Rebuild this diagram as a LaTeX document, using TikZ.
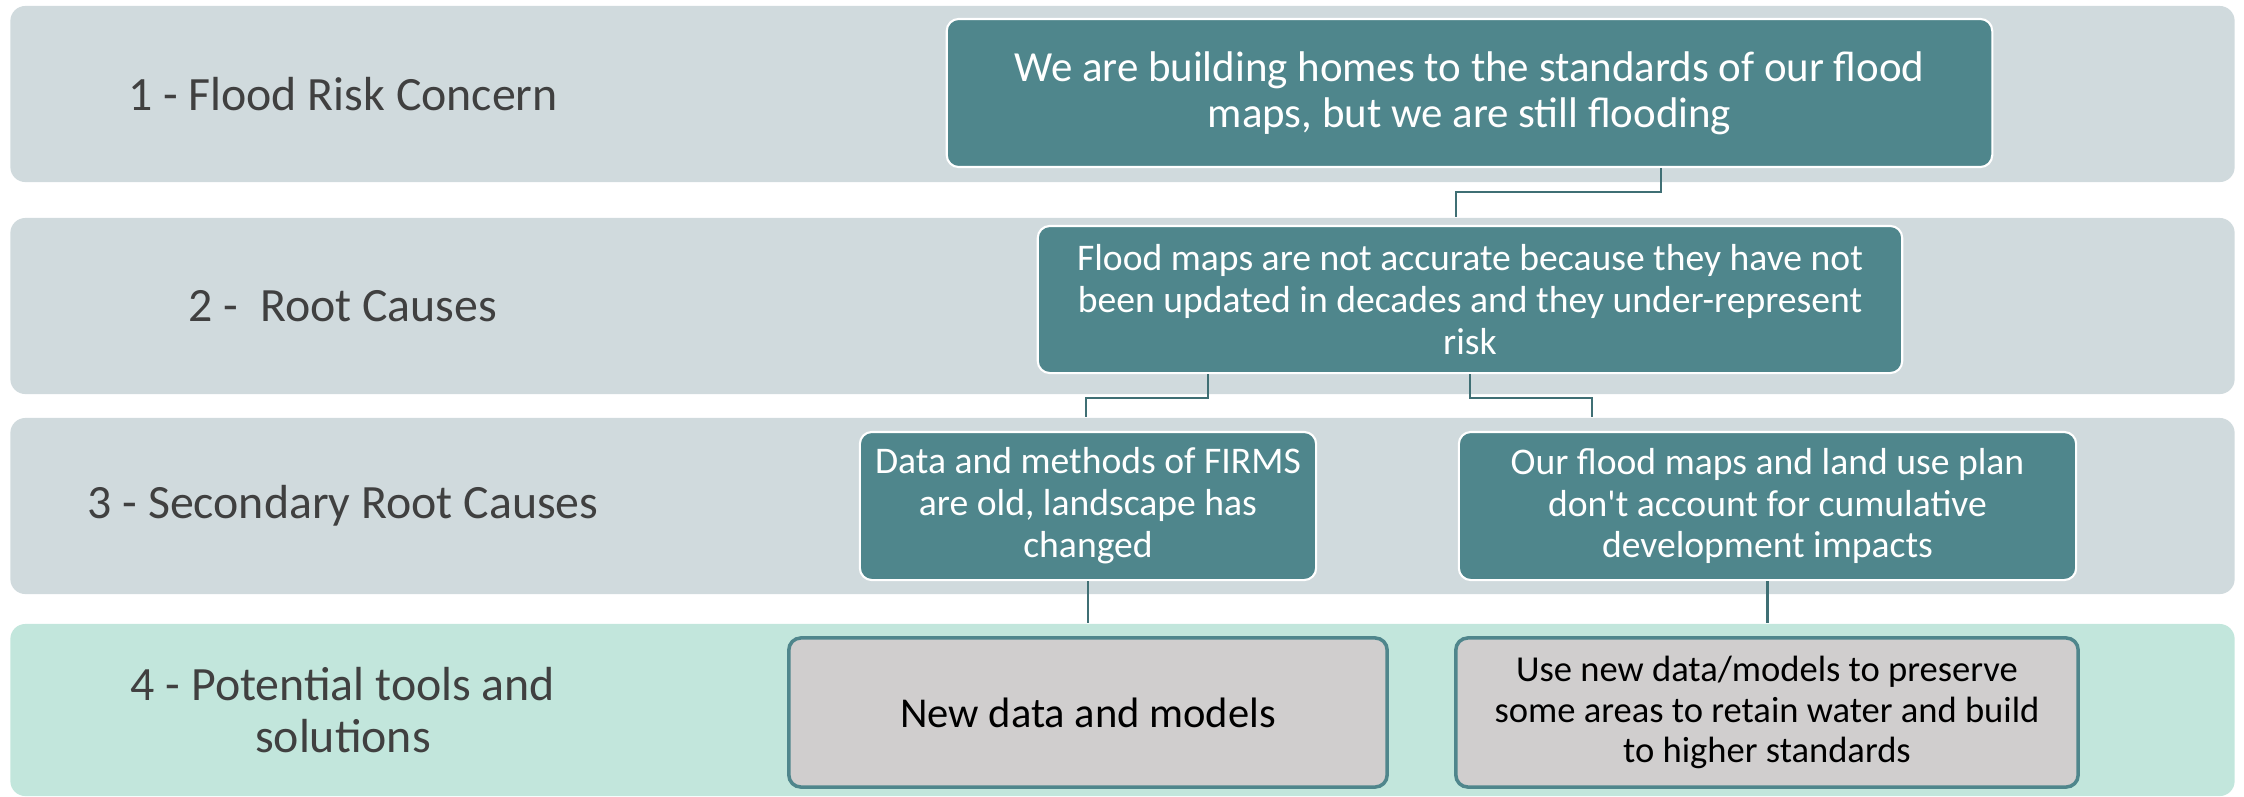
\documentclass[tikz,border=0pt]{standalone}
\usepackage{fontspec}
\setmainfont{Carlito}
\definecolor{bandgray}{HTML}{D0DADD}
\definecolor{bandmint}{HTML}{C2E6DC}
\definecolor{boxteal}{HTML}{4F868C}
\definecolor{linkteal}{HTML}{3F6F74}
\definecolor{toolgray}{HTML}{D0CECE}
\definecolor{labelgray}{HTML}{404040}
\begin{document}
\begin{tikzpicture}[x=0.01cm, y=-0.01cm,
        band/.style={rounded corners=0.15cm, minimum width=22.23cm, minimum height=1.76cm, inner sep=0pt},
        level/.style={text=labelgray, align=center, font=\fontsize{13.6}{15}\selectfont},
        cause/.style={fill=boxteal, draw=white, line width=0.6pt, rounded corners=0.12cm, text=white,
            align=center, inner sep=0pt, minimum height=1.48cm, font=\fontsize{10.7}{11.9}\selectfont},
        tool/.style={fill=toolgray, draw=boxteal, line width=1pt, rounded corners=0.12cm,
            align=center, inner sep=0pt, minimum height=1.49cm, font=\fontsize{10.4}{11.5}\selectfont},
        link/.style={draw=linkteal, line width=0.7pt}]
            \useasboundingbox (0,0) rectangle (2244,796);

            \node[band, fill=bandgray] (b1) at (1122.5, 94) {};
            \node[band, fill=bandgray] (b2) at (1122.5, 306) {};
            \node[band, fill=bandgray] (b3) at (1122.5, 506) {};
            \node[band, fill=bandmint, minimum height=1.72cm] (b4) at (1122.5, 710) {};

            \node[level] (l1) at (343, 94) {1 - Flood Risk Concern};
            \node[level] (l2) at (343, 306) {2 -\ \ Root Causes};
            \node[level] (l3) at (343, 506) {3 - Secondary Root Causes};
            \node[level] (l4) at (343, 710) {4 - Potential tools and\\solutions};

            \node[cause, minimum width=10.45cm, font=\fontsize{12.2}{13.2}\selectfont] (q1) at (1469.5, 93)
                {We are building homes to the standards of our flood\\maps, but we are still flooding};
            \node[cause, minimum width=8.64cm, minimum height=1.47cm] (q2) at (1470, 299.5)
                {Flood maps are not accurate because they have not\\been updated in decades and they under-represent\\risk};
            \node[cause, minimum width=4.56cm] (s1) at (1088, 506)
                {Data and methods of FIRMS\\are old, landscape has\\changed};
            \node[cause, minimum width=6.17cm] (s2) at (1767.5, 506)
                {Our flood maps and land use plan\\don\textquotesingle t account for cumulative\\development impacts};
            \node[tool, minimum width=5.98cm, font=\fontsize{12.1}{14}\selectfont] (t1) at (1088, 712.5)
                {New data and models};
            \node[tool, minimum width=6.22cm] (t2) at (1767, 712.5)
                {Use new data/models to preserve\\some areas to retain water and build\\to higher standards};

            \coordinate (j1) at (1661, 192);
            \coordinate (j1e) at (1456, 192);
            \coordinate (j2) at (1208, 398);
            \coordinate (j2e) at (1086, 398);
            \coordinate (j3e) at (1592, 398);

            \draw[link] (q1.south -| j1) -- (j1) -- (j1e) -- (b2.north -| j1e);
            \draw[link] (q2.south -| j2) -- (j2) -- (j2e) -- (b3.north -| j2e);
            \draw[link] (q2.south) -- (q2.south |- j3e) -- (j3e) -- (b3.north -| j3e);
            \draw[link] (s1.south) -- (b4.north -| s1.south);
            \draw[link] (s2.south) -- (b4.north -| s2.south);
        \end{tikzpicture}
\end{document}
